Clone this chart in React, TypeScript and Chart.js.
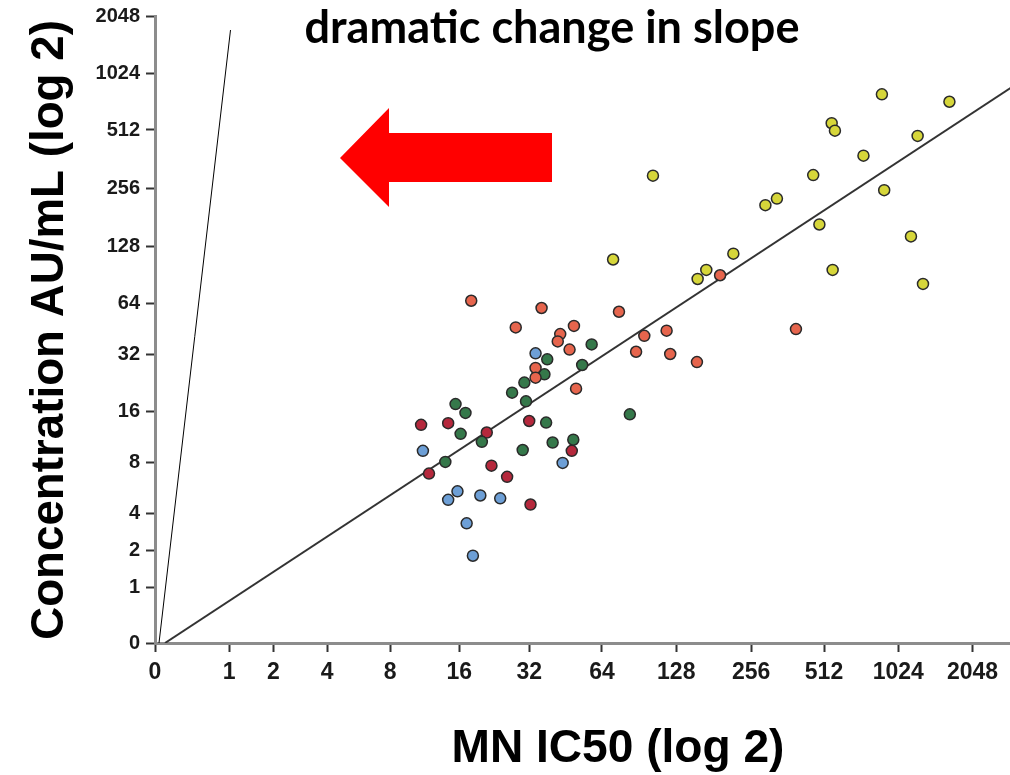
import React, { useEffect, useRef } from "react";
import { Chart, registerables } from "chart.js";

Chart.register(...registerables);

// ---- axis definition (broken log2 axes as in the reference) ----
const xTickValues = [0, 1, 2, 4, 8, 16, 32, 64, 128, 256, 512, 1024, 2048];
const xTickLabels = ["0", "1", "2", "4", "8", "16", "32", "64", "128", "256", "512", "1024", "2048"];
const xAxisStops = [0, 1.01, 1.61, 2.34, 3.2, 4.14, 5.09, 6.08, 7.09, 8.11, 9.1, 10.11, 11.12];
const xAxisMax = 11.63;

const yTickValues = [0, 1, 2, 4, 8, 16, 32, 64, 128, 256, 512, 1024, 2048];
const yTickLabels = ["0", "1", "2", "4", "8", "16", "32", "64", "128", "256", "512", "1024", "2048"];
const yAxisStops = [0, 0.98, 1.63, 2.28, 3.16, 4.07, 5.07, 5.96, 6.96, 7.98, 9.0, 10.0, 11.0];
const yAxisMax = 11.0;

// ---- data: MN IC50 (x) and concentration AU/mL (y) ----
const blueIC50 = [34, 11.1, 44, 15.7, 14.3, 19.7, 24, 17.2, 18.3];
const blueConc = [32.3, 9.4, 8.0, 5.4, 4.8, 5.1, 4.9, 3.3, 1.8];

const darkRedIC50 = [10.9, 14.3, 32, 21, 48, 22, 11.8, 25.7, 32.4];
const darkRedConc = [13.3, 13.6, 14, 12, 9.4, 7.7, 6.9, 6.6, 4.5];

const greenIC50 = [58, 38, 37, 53, 30.5, 27, 31, 15.4, 17, 83, 37.6, 16.2, 20, 48.7, 40, 30, 13.9];
const greenConc = [36.5, 30, 25, 28, 22.6, 20, 18, 17.4, 15.6, 15.3, 13.7, 11.8, 10.6, 10.9, 10.5, 9.5, 8.1];

const redIC50 = [18, 36, 75, 28, 49, 43, 42, 95, 117, 47, 88, 121, 34, 34, 50, 192, 155, 392];
const redConc = [66, 60, 57, 46, 47, 42, 38, 41, 44, 34, 33, 32, 27, 24, 21, 90, 29, 45];

const yellowIC50 = [879, 1651, 550, 567, 1227, 740, 103, 462, 898, 327, 293, 490, 1153, 71, 217, 169, 156, 555, 1290];
const yellowConc = [790, 722, 556, 508, 477, 377, 297, 299, 250, 226, 209, 166, 144, 109, 117, 96, 86, 96, 81];

const fitIC50 = [0.135, 2918];
const fitConc = [0, 853];
const steepIC50 = [0.054, 1.02];
const steepConc = [0, 1727];

const titleText = "dramatic change in slope";
const xTitle = "MN IC50 (log 2)";
const yTitle = "Concentration AU/mL (log 2)";

function toAxis(v: number, values: number[], stops: number[]): number {
  if (v <= values[0]) return stops[0];
  for (let i = 1; i < values.length; i++) {
    if (v <= values[i] || i === values.length - 1) {
      const a = values[i - 1];
      const b = values[i];
      const t = a === 0 ? v / b : Math.log2(v / a) / Math.log2(b / a);
      return stops[i - 1] + t * (stops[i] - stops[i - 1]);
    }
  }
  return stops[stops.length - 1];
}

function pts(xs: number[], ys: number[]) {
  return xs.map((x, i) => ({
    x: toAxis(x, xTickValues, xAxisStops),
    y: toAxis(ys[i], yTickValues, yAxisStops),
  }));
}

const FONT = "'Liberation Sans', Arial, sans-serif";

function drawFitted(
  ctx: CanvasRenderingContext2D,
  text: string,
  family: string,
  targetWidth: number,
  cx: number,
  baseline: number,
  rotate: boolean
) {
  ctx.save();
  ctx.font = `bold 100px ${family}`;
  const w = ctx.measureText(text).width;
  const size = (100 * targetWidth) / w;
  ctx.font = `bold ${size}px ${family}`;
  ctx.fillStyle = "#000";
  ctx.textAlign = "center";
  ctx.textBaseline = "alphabetic";
  if (rotate) {
    ctx.translate(baseline, cx);
    ctx.rotate(-Math.PI / 2);
    ctx.fillText(text, 0, 0);
  } else {
    ctx.fillText(text, cx, baseline);
  }
  ctx.restore();
}

const annotations = {
  id: "annotations",
  afterDraw(chart: any) {
    const ctx: CanvasRenderingContext2D = chart.ctx;
    ctx.save();
    ctx.fillStyle = "#ff0000";
    ctx.beginPath();
    ctx.moveTo(340, 158);
    ctx.lineTo(389, 108);
    ctx.lineTo(389, 133);
    ctx.lineTo(552, 133);
    ctx.lineTo(552, 182);
    ctx.lineTo(389, 182);
    ctx.lineTo(389, 207);
    ctx.closePath();
    ctx.fill();
    ctx.restore();

    drawFitted(ctx, titleText, "Lato, 'Open Sans', sans-serif", 495, 552, 43, false);
    drawFitted(ctx, xTitle, FONT, 333, 618, 762, false);
    drawFitted(ctx, yTitle, FONT, 620, 330, 63, true);
  },
};

function scatterSet(label: string, xs: number[], ys: number[], color: string) {
  return {
    label,
    data: pts(xs, ys),
    backgroundColor: color,
    borderColor: "#2a2a2a",
    borderWidth: 1.5,
    pointRadius: 5.5,
    showLine: false,
  };
}

export default function App() {
  const canvasRef = useRef<HTMLCanvasElement | null>(null);

  useEffect(() => {
    document.body.style.margin = "0";
    if (!canvasRef.current) return;
    const chart = new Chart(canvasRef.current, {
      type: "scatter",
      data: {
        datasets: [
          scatterSet("Yellow", yellowIC50, yellowConc, "#d6d63a"),
          scatterSet("Red", redIC50, redConc, "#e6654d"),
          scatterSet("Green", greenIC50, greenConc, "#35784a"),
          scatterSet("Dark red", darkRedIC50, darkRedConc, "#b5283c"),
          scatterSet("Blue", blueIC50, blueConc, "#6d9fd6"),
          {
            label: "Fit",
            data: pts(fitIC50, fitConc),
            showLine: true,
            borderColor: "#333333",
            borderWidth: 2,
            pointRadius: 0,
          },
          {
            label: "Steep",
            data: pts(steepIC50, steepConc),
            showLine: true,
            borderColor: "#000000",
            borderWidth: 1,
            pointRadius: 0,
          },
        ] as any,
      },
      options: {
        animation: false,
        responsive: true,
        maintainAspectRatio: false,
        layout: { autoPadding: false, padding: { top: 16, right: 0, bottom: 0, left: 0 } },
        plugins: {
          legend: { display: false },
          tooltip: { enabled: false },
        },
        scales: {
          x: {
            type: "linear",
            min: 0,
            max: xAxisMax,
            afterFit: (s: any) => {
              s.height = 132;
              s.paddingLeft = 0;
              s.paddingRight = 0;
            },
            afterBuildTicks: (s: any) => {
              s.ticks = xAxisStops.map((v) => ({ value: v }));
            },
            ticks: {
              autoSkip: false,
              maxRotation: 0,
              padding: 7,
              color: "#1a1a1a",
              font: { family: FONT, size: 23, weight: "bold" },
              callback: (_v: any, i: number) => xTickLabels[i],
            },
            grid: {
              drawOnChartArea: false,
              drawTicks: true,
              tickLength: 9,
              tickWidth: 2,
              tickColor: "#333333",
            },
            border: { display: true, color: "#8c8c8c", width: 3 },
          },
          y: {
            type: "linear",
            min: 0,
            max: yAxisMax,
            afterFit: (s: any) => {
              s.width = 155;
              s.paddingTop = 0;
              s.paddingBottom = 0;
            },
            afterBuildTicks: (s: any) => {
              s.ticks = yAxisStops.map((v) => ({ value: v }));
            },
            ticks: {
              autoSkip: false,
              padding: 6,
              color: "#1a1a1a",
              font: { family: FONT, size: 20, weight: "bold" },
              callback: (_v: any, i: number) => yTickLabels[i],
            },
            grid: {
              drawOnChartArea: false,
              drawTicks: true,
              tickLength: 9,
              tickWidth: 2,
              tickColor: "#333333",
            },
            border: { display: true, color: "#8c8c8c", width: 3 },
          },
        },
      } as any,
      plugins: [annotations],
    });
    return () => chart.destroy();
  }, []);

  return (
    <div style={{ position: "relative", width: 1010, height: 775 }}>
      <canvas ref={canvasRef} />
    </div>
  );
}
